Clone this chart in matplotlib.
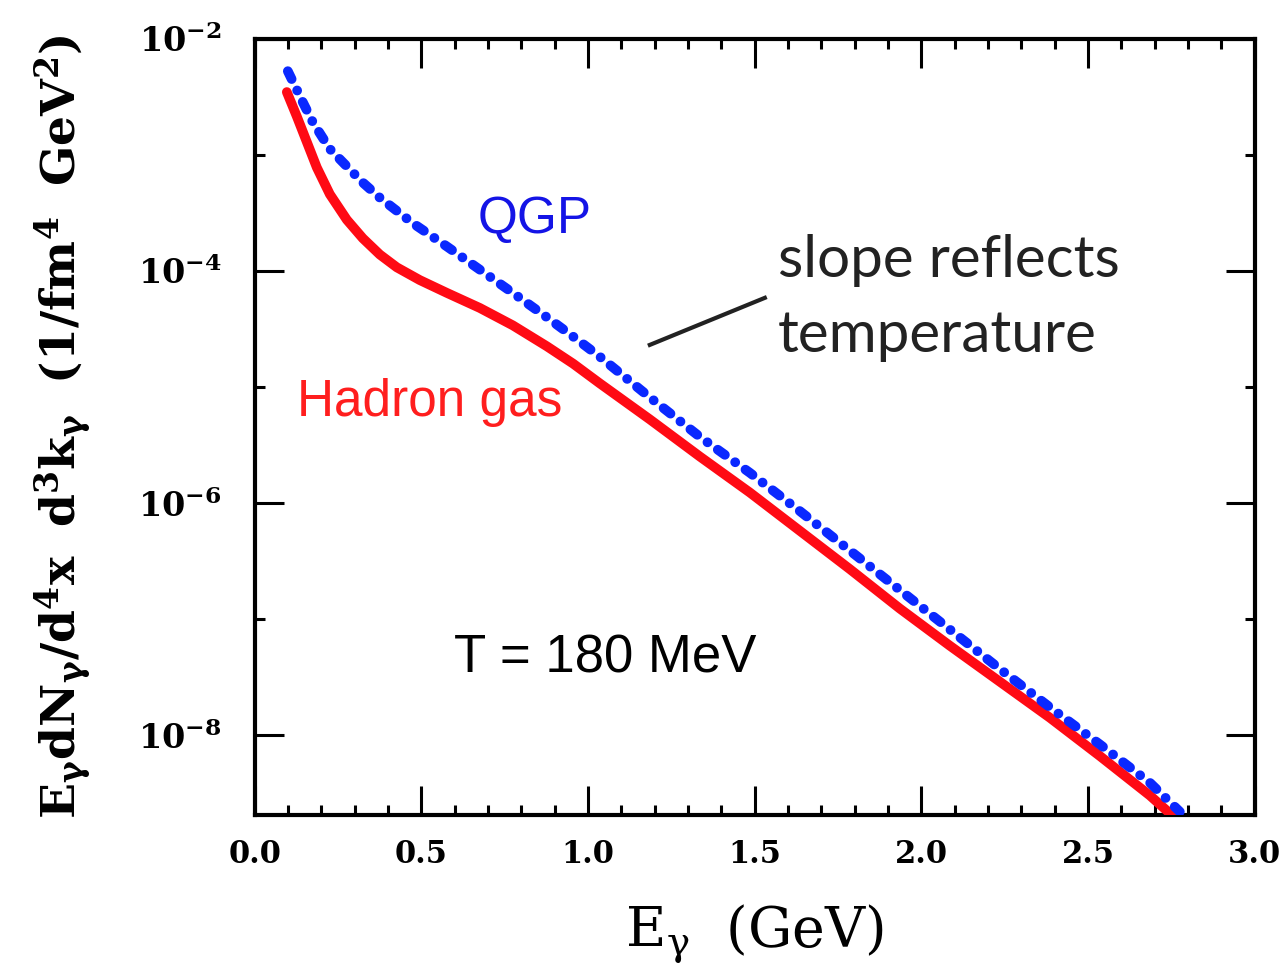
import numpy as np
import matplotlib
matplotlib.use('Agg')
import matplotlib.pyplot as plt
from matplotlib.ticker import FixedLocator, FuncFormatter, NullFormatter

plt.rcParams['mathtext.fontset'] = 'dejavuserif'
plt.rcParams['font.family'] = 'DejaVu Serif'

# photon energy (GeV) and log10 of the rate
e_hadron = [0.096, 0.126, 0.156, 0.186, 0.225, 0.276, 0.324, 0.375, 0.426, 0.495,
            0.576, 0.675, 0.774, 0.876, 0.955, 1.035, 1.185, 1.335, 1.485, 1.635,
            1.785, 1.935, 2.085, 2.235, 2.385, 2.535, 2.685, 2.755]
log_hadron = [-2.46, -2.67, -2.89, -3.11, -3.34, -3.56, -3.72, -3.86, -3.97, -4.08,
              -4.19, -4.32, -4.47, -4.65, -4.80, -4.97, -5.28, -5.60, -5.91, -6.24,
              -6.57, -6.91, -7.23, -7.54, -7.85, -8.18, -8.52, -8.70]

e_qgp = [0.099, 0.141, 0.174, 0.225, 0.276, 0.324, 0.375, 0.474, 0.576, 0.675,
         0.774, 0.876, 0.966, 1.035, 1.185, 1.335, 1.485, 1.635, 1.785, 1.935,
         2.085, 2.235, 2.385, 2.535, 2.685, 2.775]
log_qgp = [-2.28, -2.53, -2.72, -2.95, -3.10, -3.24, -3.37, -3.59, -3.79, -3.99,
           -4.19, -4.40, -4.59, -4.74, -5.09, -5.43, -5.74, -6.07, -6.41, -6.75,
           -7.09, -7.43, -7.76, -8.08, -8.41, -8.66]

rate_hadron = 10.0 ** np.array(log_hadron)
rate_qgp = 10.0 ** np.array(log_qgp)

fig = plt.figure(figsize=(12.87, 9.67), dpi=100)
ax = fig.add_axes([0.198, 0.157, 0.777, 0.803])

ax.plot(e_hadron, rate_hadron, color='#ff0a14', lw=7, solid_capstyle='round',
        solid_joinstyle='round', zorder=3)
ax.plot(e_qgp, rate_qgp, color='#0a28ff', lw=7, dash_capstyle='round',
        linestyle=(0, (0.9, 1.3, 0.01, 1.3)), zorder=4)

ax.set_yscale('log')
ax.set_xlim(0, 3.0)
ax.set_ylim(10 ** -8.69, 1e-2)

ax.xaxis.set_major_locator(FixedLocator(np.arange(0, 3.01, 0.5)))
ax.xaxis.set_minor_locator(FixedLocator(np.arange(0, 3.01, 0.1)))
ax.xaxis.set_major_formatter(FuncFormatter(lambda v, p: '%.1f' % v))
ax.yaxis.set_major_locator(FixedLocator([1e-8, 1e-6, 1e-4, 1e-2]))
ax.yaxis.set_minor_locator(FixedLocator([1e-7, 1e-5, 1e-3]))
ax.yaxis.set_minor_formatter(NullFormatter())
ax.yaxis.set_major_formatter(FuncFormatter(
    lambda v, p: r'$\mathbf{10^{%d}}$' % int(round(np.log10(v)))))

ax.tick_params(which='both', direction='in', top=True, right=True, width=2.2)
ax.tick_params(which='major', length=21)
ax.tick_params(which='minor', length=7)
ax.tick_params(axis='x', which='major', pad=17, labelsize=22)
ax.tick_params(axis='y', which='major', pad=24, labelsize=24)
for lab in ax.get_xticklabels():
    lab.set_fontweight('bold')
for s in ax.spines.values():
    s.set_linewidth(3)

ax.set_xlabel(r'$\mathrm{E_{\gamma}\ \ (GeV)}$', fontsize=40, labelpad=24)
ax.set_ylabel(r'$\mathbf{E_{\gamma}dN_{\gamma}/d^4x\ \ d^3k_{\gamma}\ \ (1/fm^4\ \ GeV^2)}$',
              fontsize=34, labelpad=32)

ax.text(0.84, 2.75e-4, 'QGP', color='#1414e6', fontsize=37, family='Liberation Sans',
        ha='center', va='center')
ax.text(0.126, 7.3e-6, 'Hadron gas', color='#ff1e1e', fontsize=37,
        family='Liberation Sans', ha='left', va='center')
ax.text(1.05, 4.6e-8, 'T = 180 MeV', color='black', fontsize=38,
        family='Liberation Sans', ha='center', va='center')
ax.text(1.57, 5.8e-5, 'slope reflects\ntemperature', color='#222222', fontsize=42,
        family='Lato', ha='left', va='center', linespacing=1.52)
ax.plot([1.185, 1.53], [2.3e-5, 5.85e-5], color='#222222', lw=3, zorder=5)

fig.savefig('out.png', dpi=100)
